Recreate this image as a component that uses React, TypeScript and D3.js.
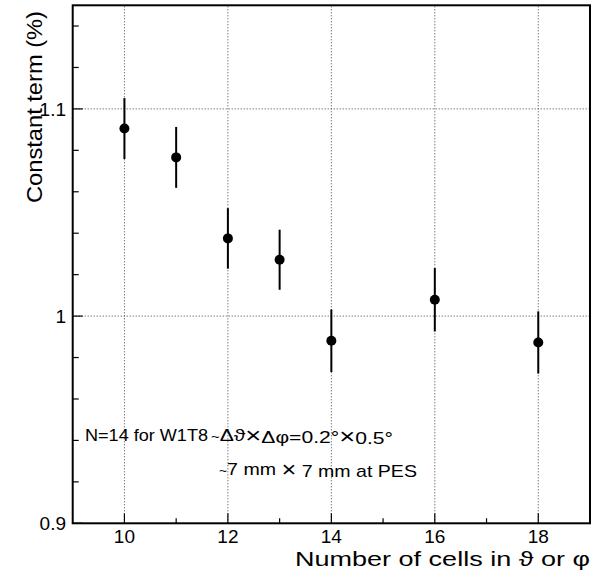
import React from "react";
import * as d3 from "d3";

const cells = [10, 11, 12, 13, 14, 16, 18];
const constTerm = [1.0905, 1.0766, 1.0375, 1.0272, 0.9881, 1.0079, 0.9873];
const errors = [0.0147, 0.0147, 0.0146, 0.0145, 0.0151, 0.0153, 0.015];

const xMajorTicks = [10, 12, 14, 16, 18];
const xMinorTicks = [11, 13, 15, 17];
const yMajorTicks = [0.9, 1.0, 1.1];
const yTickLabels = ["0.9", "1", "1.1"];
const yGridValues = [1.0, 1.1];
const yMinorTicks = [0.92, 0.94, 0.96, 0.98, 1.02, 1.04, 1.06, 1.08, 1.12, 1.14];

const xTitle = "Number of cells in \u03D1 or \u03C6";
const yTitle = "Constant term (%)";
const note1a = "N=14 for W1T8";
const TIMES = "\u00D7";

const W = 595;
const H = 575;
const L = 72.7;
const R = 590;
const T = 5.3;
const B = 523.3;
const FONT = "'Liberation Sans', Arial, Helvetica, sans-serif";

function Times() {
  return (
    <>
      <tspan fontSize={22} dy={1.5}>
        {TIMES}
      </tspan>
      <tspan dy={-1.5}>{""}</tspan>
    </>
  );
}

export default function App() {
  const x = d3.scaleLinear().domain([9, 19]).range([L, R]);
  const y = d3.scaleLinear().domain([0.9, 1.15]).range([B, T]);

  return (
    <svg
      width={W}
      height={H}
      style={{ position: "absolute", left: 0, top: 0, background: "#fff" }}
      fontFamily={FONT}
    >
      <rect x={0} y={0} width={W} height={H} fill="#fff" />
      {/* grid */}
      {xMajorTicks.map((v) => (
        <line
          key={"gx" + v}
          x1={x(v)}
          x2={x(v)}
          y1={B}
          y2={T}
          stroke="#444"
          strokeWidth={1}
          strokeDasharray="1,2"
        />
      ))}
      {yGridValues.map((v) => (
        <line
          key={"gy" + v}
          x1={L}
          x2={R}
          y1={y(v)}
          y2={y(v)}
          stroke="#444"
          strokeWidth={1}
          strokeDasharray="1,2"
        />
      ))}
      {/* ticks */}
      {xMajorTicks.map((v) => (
        <line key={"xt" + v} x1={x(v)} x2={x(v)} y1={B} y2={B - 10} stroke="#000" strokeWidth={1.2} />
      ))}
      {xMinorTicks.map((v) => (
        <line key={"xm" + v} x1={x(v)} x2={x(v)} y1={B} y2={B - 5} stroke="#000" strokeWidth={1.2} />
      ))}
      {yMajorTicks.map((v) => (
        <line key={"yt" + v} x1={L} x2={L + 10} y1={y(v)} y2={y(v)} stroke="#000" strokeWidth={1.2} />
      ))}
      {yMinorTicks.map((v) => (
        <line key={"ym" + v} x1={L} x2={L + 6} y1={y(v)} y2={y(v)} stroke="#000" strokeWidth={1.2} />
      ))}
      {/* frame */}
      <rect x={L} y={T} width={R - L} height={B - T} fill="none" stroke="#000" strokeWidth={2} />
      {/* tick labels */}
      {xMajorTicks.map((v) => (
        <text key={"xl" + v} x={x(v)} y={B + 20} fontSize={19} textAnchor="middle" fill="#000">
          {v}
        </text>
      ))}
      {yMajorTicks.map((v, i) => (
        <text key={"yl" + v} x={66} y={y(v) + 7} fontSize={19} textAnchor="end" fill="#000">
          {yTickLabels[i]}
        </text>
      ))}
      {/* titles */}
      <text
        x={R}
        y={566}
        fontSize={20}
        textAnchor="end"
        textLength={295}
        lengthAdjust="spacingAndGlyphs"
        fill="#000"
      >
        {xTitle}
      </text>
      <text
        transform={`translate(42,11) rotate(-90)`}
        fontSize={22}
        textAnchor="end"
        textLength={192}
        lengthAdjust="spacingAndGlyphs"
        fill="#000"
      >
        {yTitle}
      </text>
      {/* annotation */}
      <text x={85} y={441} fontSize={17} textLength={123} lengthAdjust="spacingAndGlyphs" fill="#000">
        {note1a}
      </text>
      <text x={211} y={441} fontSize={17} textLength={182} lengthAdjust="spacingAndGlyphs" fill="#000">
        <tspan fontSize={12}>~</tspan>
        {"\u0394\u03D1"}
        <Times />
        {"\u0394\u03C6=0.2\u00B0"}
        <Times />
        {"0.5\u00B0"}
      </text>
      <text x={219} y={475} fontSize={17} textLength={198} lengthAdjust="spacingAndGlyphs" fill="#000">
        <tspan fontSize={12}>~</tspan>
        {"7 mm "}
        <Times />
        {" 7 mm at PES"}
      </text>
      {/* data */}
      {cells.map((c, i) => (
        <g key={"p" + c}>
          <line
            x1={x(c)}
            x2={x(c)}
            y1={y(constTerm[i] - errors[i])}
            y2={y(constTerm[i] + errors[i])}
            stroke="#000"
            strokeWidth={2}
          />
          <circle cx={x(c)} cy={y(constTerm[i])} r={5} fill="#000" />
        </g>
      ))}
    </svg>
  );
}
